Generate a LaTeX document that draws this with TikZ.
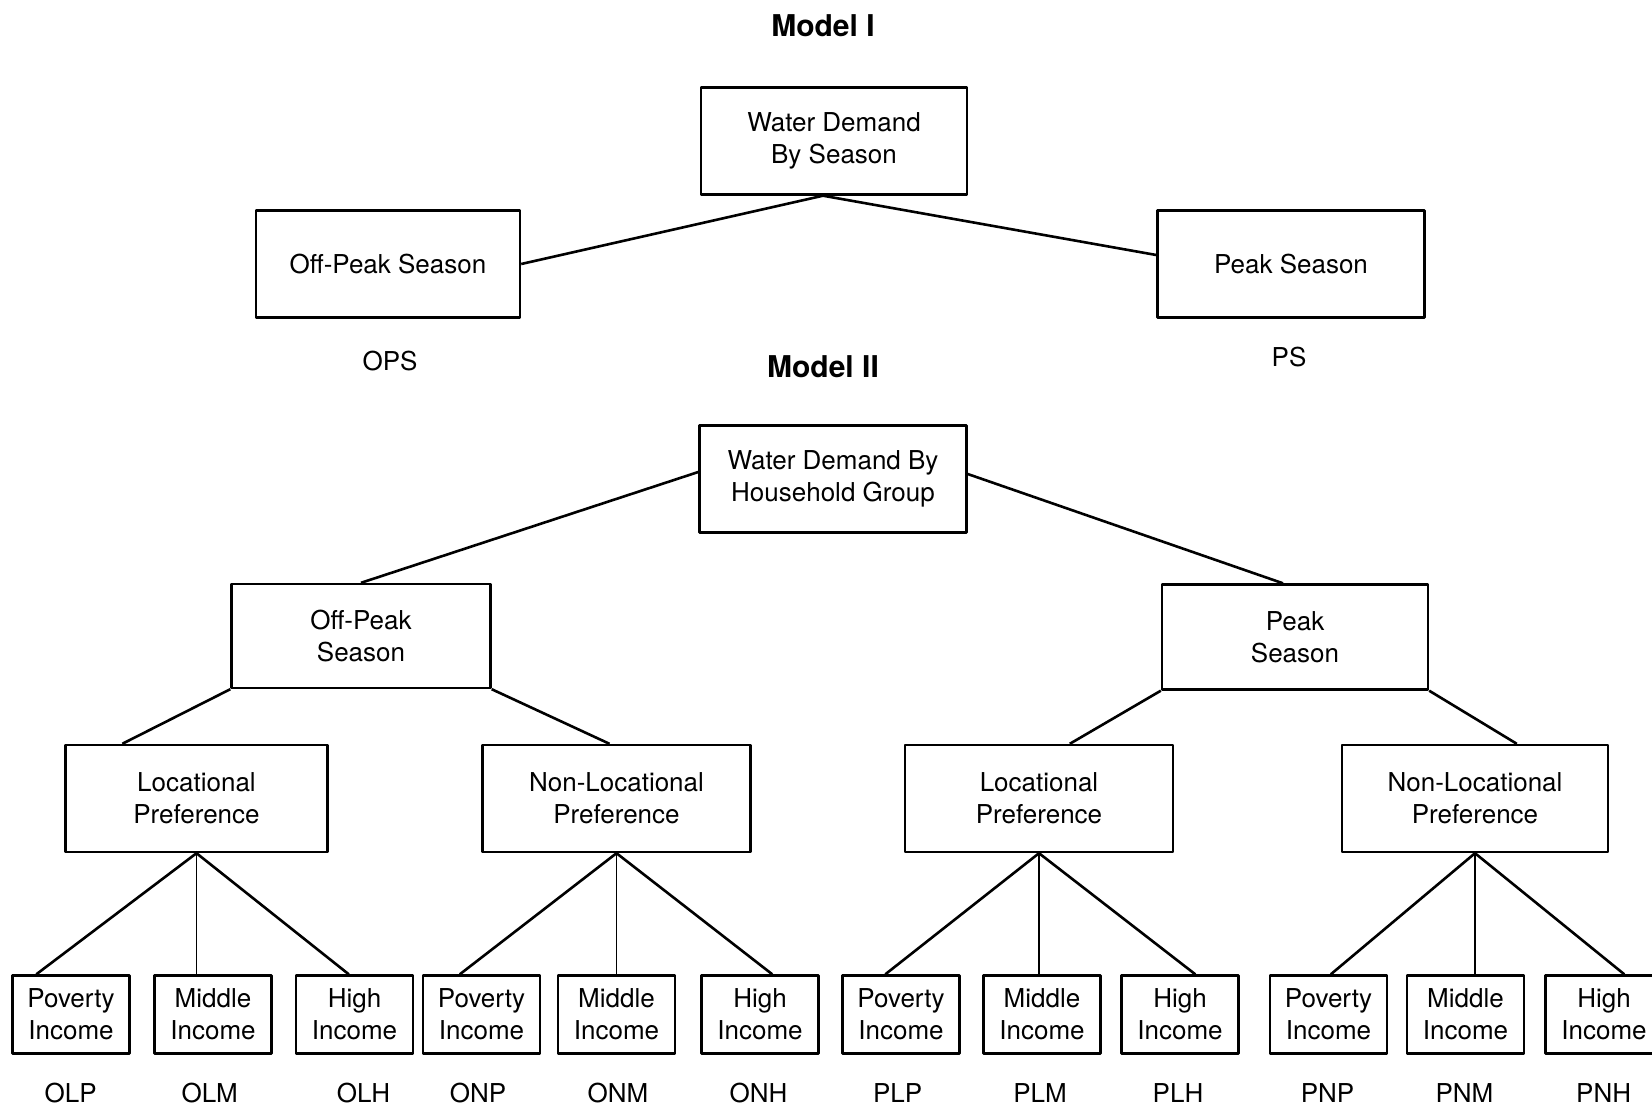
\documentclass[tikz,border=0pt]{standalone}
\usepackage{fontspec}
\setmainfont{TeX Gyre Heros}
\begin{document}
\begin{tikzpicture}[x=1pt,y=-1pt,line join=round,
  font=\fontsize{26}{31.6}\selectfont,
  box/.style={draw,line width=2.4pt,align=center,inner sep=0pt,minimum height=107pt},
  leaf/.style={box,minimum width=117pt,minimum height=78pt},
  link/.style={line width=2.6pt},
  thinlink/.style={line width=1.4pt},
  title/.style={font=\fontsize{30}{36}\selectfont\bfseries}]
\useasboundingbox (0,0) rectangle (1652,1109);
% Model I
\node[title] (m1) at (823,26) {Model I};
\node[box,minimum width=266pt] (top1) at (834,141) {Water Demand\\By Season};
\node[box,minimum width=264pt] (os1) at (388,264) {Off-Peak Season};
\node[box,minimum width=267pt] (ps1) at (1291,264) {Peak Season};
\node (ops) at (390,361) {OPS};
\node (psl) at (1289,357) {PS};
\draw[link] (os1.east) -- ([xshift=-11pt]top1.south) -- ([yshift=9pt]ps1.west);
% Model II
\node[title] (m2) at (823,367) {Model II};
\node[box,minimum width=267pt] (top2) at (833,479) {Water Demand By\\Household Group};
\node[box,minimum width=259pt,minimum height=104pt] (os2) at (361,636) {Off-Peak\\Season};
\node[box,minimum width=266pt,minimum height=105pt] (ps2) at (1295,637) {Peak\\Season};
\node[box,minimum width=262pt] (lp1) at (196.5,798.5) {Locational\\Preference};
\node[box,minimum width=268pt] (nlp1) at (616.5,798.5) {Non-Locational\\Preference};
\node[box,minimum width=268pt] (lp2) at (1039,798.5) {Locational\\Preference};
\node[box,minimum width=266pt] (nlp2) at (1475,798.5) {Non-Locational\\Preference};
\draw[link] ([yshift=7pt]top2.west) -- (os2.north);
\draw[link] ([yshift=5pt]top2.east) -- ([xshift=-12pt]ps2.north);
\draw[link] (os2.south west) -- ([xshift=58pt]lp1.north west);
\draw[link] (os2.south east) -- ([xshift=-7pt]nlp1.north);
\draw[link] (ps2.south west) -- ([xshift=166pt]lp2.north west);
\draw[link] (ps2.south east) -- ([xshift=176pt]nlp2.north west);
% income groups
\foreach \i/\x/\a/\c/\cx in {1/71/Poverty/OLP/70.6, 2/213/Middle/OLM/209.7, 3/354.5/High/OLH/363.5,
  4/481.5/Poverty/ONP/478, 5/616.5/Middle/ONM/618, 6/760/High/ONH/758.6,
  7/901/Poverty/PLP/897.7, 8/1042/Middle/PLM/1040, 9/1180/High/PLH/1178,
  10/1328.5/Poverty/PNP/1327.5, 11/1465.5/Middle/PNM/1464.5, 12/1604/High/PNH/1603.6}{
  \node[leaf] (l\i) at (\x,1014.5) {\a\\Income};
  \node (c\i) at (\cx,1093) {\c};
}
\draw[link] (lp1.south) -- ([xshift=25pt]l1.north west);
\draw[thinlink] (lp1.south) -- (lp1.south |- l2.north);
\draw[link] (lp1.south) -- ([xshift=54pt]l3.north west);
\draw[link] (nlp1.south) -- ([xshift=38pt]l4.north west);
\draw[thinlink] (nlp1.south) -- (nlp1.south |- l5.north);
\draw[link] (nlp1.south) -- ([xshift=72pt]l6.north west);
\draw[link] (lp2.south) -- ([xshift=44pt]l7.north west);
\draw[thinlink] (lp2.south) -- (lp2.south |- l8.north);
\draw[link] (lp2.south) -- ([xshift=75pt]l9.north west);
\draw[link] (nlp2.south) -- ([xshift=62pt]l10.north west);
\draw[thinlink] (nlp2.south) -- (nlp2.south |- l11.north);
\draw[link] (nlp2.south) -- ([xshift=80pt]l12.north west);
\end{tikzpicture}
\end{document}
